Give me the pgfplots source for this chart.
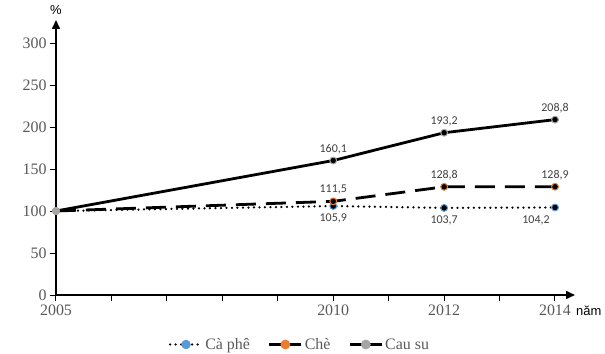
\documentclass[border=0pt]{standalone}
\usepackage{fontspec}
\setmainfont{Liberation Serif}
\newfontfamily\arial{Liberation Sans}
\newfontfamily\calibri{Carlito}
\usepackage{pgfplots}
\usepackage{pgfplotstable}
\pgfplotsset{compat=1.18}
\usetikzlibrary{arrows.meta}
\definecolor{cafe}{HTML}{5B9BD5}
\definecolor{che}{HTML}{ED7D31}
\definecolor{causu}{HTML}{A5A5A5}
\definecolor{tickgray}{HTML}{595959}
\definecolor{labgray}{HTML}{404040}
\pgfplotstableread{
x y lab dx
2005 100 {} 0
2010 105.9 105,9 0
2012 103.7 103,7 0
2014 104.2 104,2 -19
}\cafe
\pgfplotstableread{
x y lab
2005 100 {}
2010 111.5 111,5
2012 128.8 128,8
2014 128.9 128,9
}\che
\pgfplotstableread{
x y lab
2005 100 {}
2010 160.1 160,1
2012 193.2 193,2
2014 208.8 208,8
}\causu
\pgfplotstableread{
x y lab
2005 100 {}
}\start
\begin{document}
\begin{tikzpicture}
\useasboundingbox (0,0) rectangle (605bp,354bp);
\begin{axis}[
  at={(56bp,59bp)}, anchor=south west,
  scale only axis, width=519bp, height=275bp,
  xmin=2005, xmax=2014.36, ymin=0, ymax=327.4,
  axis lines=left,
  axis line style={line width=1.6bp, -{Triangle[length=9bp,width=8bp]}},
  xtick={2005,...,2014},
  xticklabels={2005,,,,,2010,,2012,,2014},
  ytick={0,50,...,300},
  tick align=outside,
  major tick length=6bp,
  tick style={black, line width=1bp},
  tick label style={font=\fontsize{16}{18}\selectfont, text=tickgray},
  /pgf/number format/assume math mode=true,
  clip=false,
  legend style={at={(0.47,-0.18)}, anchor=center, draw=none, fill=none,
    legend columns=3, font=\fontsize{16}{18}\selectfont, text=tickgray,
    /tikz/every even column/.append style={column sep=16bp}},
  legend image code/.code={\draw[#1, mark repeat=2, mark phase=2] plot coordinates {(0bp,0bp)(16bp,0bp)(32bp,0bp)};},
  nodes near coords={\pgfplotspointmeta},
  point meta=explicit symbolic,
  every node near coord/.append style={font=\calibri\fontsize{12}{14}\selectfont, text=labgray},
]
\addplot[black, line width=2.5bp, dash pattern=on 0pt off 5.5bp, line cap=round,
  mark=*, mark size=3.4bp, mark options={solid, fill=black, draw=cafe, line width=1bp},
  legend image post style={mark options={solid, fill=cafe, draw=cafe}},
  visualization depends on={\thisrow{dx} \as \dxv},
  nodes near coords align={below},
  every node near coord/.append style={xshift=\dxv bp, yshift=-4bp}]
  table[x=x, y=y, meta=lab] {\cafe};
\addlegendentry{Cà phê}
\addplot[black, line width=2.8bp, dash pattern=on 20bp off 10bp,
  mark=*, mark size=3.4bp, mark options={solid, fill=black, draw=che, line width=1bp},
  legend image post style={solid, mark options={solid, fill=che, draw=che}},
  nodes near coords align={above},
  every node near coord/.append style={yshift=3bp}]
  table[x=x, y=y, meta=lab] {\che};
\addlegendentry{Chè}
\addplot[black, line width=2.8bp,
  mark=*, mark size=3.4bp, mark options={solid, fill=black, draw=causu, line width=1bp},
  legend image post style={mark options={solid, fill=causu, draw=causu}},
  nodes near coords align={above},
  every node near coord/.append style={yshift=3bp}]
  table[x=x, y=y, meta=lab] {\causu};
\addlegendentry{Cau su}
\addplot[only marks, mark=*, mark size=3.4bp, mark options={fill=causu, draw=causu}, forget plot]
  table[x=x, y=y, meta=lab] {\start};
\node[font=\arial\fontsize{13}{14}\selectfont, text=black] at (rel axis cs:0,1) [above=2bp] {\%};
\node[font=\arial\fontsize{13}{14}\selectfont, text=black, anchor=west, inner sep=0pt] at (rel axis cs:1,0) [xshift=1bp, yshift=-16bp] {năm};
\end{axis}
\end{tikzpicture}
\end{document}
